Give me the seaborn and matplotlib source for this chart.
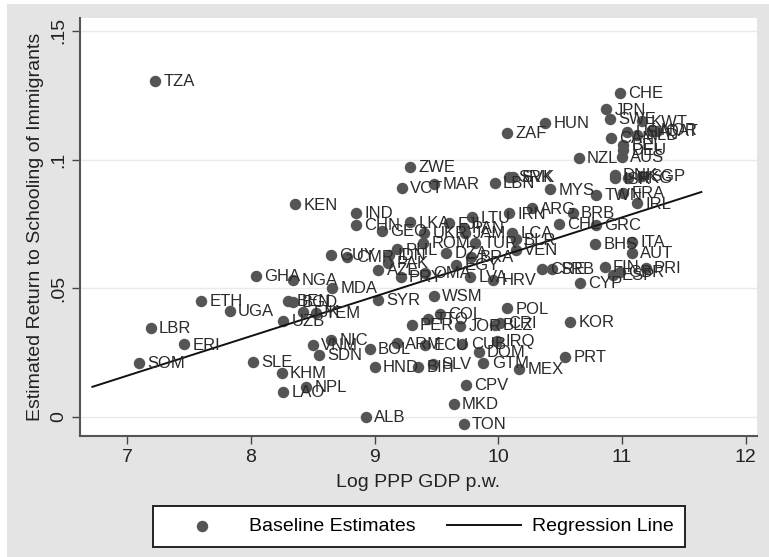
import matplotlib.pyplot as plt
from matplotlib.patches import Rectangle
import pandas as pd
import seaborn as sns

countries = ["TZA", "CHE", "JPN", "SWE", "KWT", "NOR", "QAT", "USA", "CAN", "BEL", "NLD", "AUS", "DEU", "NZL", "HUN", "ZAF",
             "LBN", "SRK", "SVK", "MYS", "TWN", "FRA", "DNK", "ISR", "SGP", "HKG", "IRL", "GRC", "CHL", "BRB", "ARG", "IRN",
             "KEN", "IND", "CHN", "LKA", "GEO", "FJI", "LTU", "PAN", "UKR", "ROM", "TUR", "JAM", "PHL", "IDN", "GUY", "CMR",
             "PAK", "AZE", "PRY", "OMA", "DZA", "BRA", "EGY", "LVA", "HRV", "NGA", "MDA", "SYR", "WSM", "POL", "LCA", "BLR",
             "VEN", "BHS", "ITA", "AUT", "FIN", "PRI", "ESP", "GBR", "CYP", "CRE", "SRB", "KOR", "CRI", "COL", "TTO", "PER",
             "JOR", "BLZ", "IRQ", "CUB", "ECU", "ARM", "BOL", "NIC", "VNM", "SDN", "HND", "BIH", "SLV", "DOM", "GTM", "MEX",
             "CPV", "MKD", "TON", "ALB", "NPL", "LAO", "KHM", "SLE", "SOM", "ERI", "LBR", "UGA", "ETH", "GHA", "BEN", "BGD",
             "UZB", "TJK", "YEM", "ZWE", "VCT", "MAR", "PRT"]
log_gdp = [7.23, 10.98, 10.87, 10.90, 11.16, 11.24, 11.28, 11.04, 10.91, 11.01, 11.12, 11.00, 11.01, 10.65, 10.38, 10.07,
           9.97, 10.09, 10.12, 10.42, 10.79, 11.01, 10.94, 10.94, 11.16, 11.05, 11.12, 10.79, 10.49, 10.60, 10.27, 10.09,
           8.36, 8.85, 8.85, 9.29, 9.06, 9.60, 9.79, 9.72, 9.40, 9.39, 9.81, 9.73, 9.18, 9.12, 8.65, 8.78,
           9.11, 9.03, 9.21, 9.41, 9.58, 9.78, 9.66, 9.77, 9.96, 8.34, 8.66, 9.03, 9.48, 10.07, 10.11, 10.14,
           10.14, 10.78, 11.08, 11.08, 10.86, 11.19, 10.93, 10.98, 10.66, 10.35, 10.43, 10.58, 10.01, 9.53, 9.43, 9.30,
           9.69, 9.97, 9.99, 9.71, 9.41, 9.18, 8.96, 8.65, 8.50, 8.55, 9.00, 9.35, 9.47, 9.84, 9.88, 10.17,
           9.74, 9.64, 9.72, 8.93, 8.45, 8.26, 8.25, 8.02, 7.10, 7.46, 7.19, 7.83, 7.60, 8.04, 8.30, 8.34,
           8.26, 8.42, 8.53, 9.29, 9.22, 9.48, 10.54]
returns = [0.1305, 0.126, 0.1195, 0.1157, 0.1148, 0.1115, 0.111, 0.1108, 0.1083, 0.1057, 0.1095, 0.1009, 0.1037, 0.1005, 0.1143, 0.1105,
           0.091, 0.0934, 0.0932, 0.0884, 0.0862, 0.0871, 0.094, 0.0927, 0.0936, 0.0929, 0.083, 0.0746, 0.0749, 0.0794, 0.081, 0.0791,
           0.0826, 0.0794, 0.0746, 0.0756, 0.0724, 0.0752, 0.0775, 0.0733, 0.0714, 0.0675, 0.0675, 0.0714, 0.0651, 0.0629, 0.0629, 0.0622,
           0.0598, 0.0571, 0.0543, 0.0559, 0.0636, 0.0623, 0.059, 0.0543, 0.0532, 0.0532, 0.05, 0.0455, 0.0471, 0.0422, 0.0714, 0.069,
           0.0649, 0.0671, 0.0679, 0.0636, 0.0584, 0.0578, 0.0552, 0.0565, 0.0522, 0.0575, 0.0575, 0.037, 0.0364, 0.0399, 0.038, 0.0357,
           0.0354, 0.0357, 0.0295, 0.0284, 0.028, 0.0286, 0.0264, 0.0299, 0.028, 0.0241, 0.0193, 0.0193, 0.0206, 0.0254, 0.0209, 0.0186,
           0.0124, 0.005, -0.0027, -0.0001, 0.0118, 0.0098, 0.0172, 0.0215, 0.0211, 0.0282, 0.0347, 0.0412, 0.0452, 0.0549, 0.0451, 0.0448,
           0.0374, 0.0409, 0.0403, 0.0971, 0.089, 0.0905, 0.0233]
line_x = [6.72, 11.64]
line_y = [0.0117, 0.0874]
x_ticks = [7, 8, 9, 10, 11, 12]
y_ticks = [0, 0.05, 0.1, 0.15]
y_ticklabels = ["0", ".05", ".1", ".15"]

plt.rcParams["font.family"] = ["Liberation Sans", "DejaVu Sans"]

df = pd.DataFrame({"gdp": log_gdp, "ret": returns, "name": countries})
df_line = pd.DataFrame({"gdp": line_x, "ret": line_y})

# grey page with the thin white strip the scan has on the left and top
fig = plt.figure(figsize=(7.69, 5.57), dpi=100, facecolor="white")
fig.add_artist(Rectangle((7 / 769, 0), 762 / 769, 553 / 557, transform=fig.transFigure,
                         facecolor="#e4e4e4", edgecolor="none", zorder=-1))
ax = fig.add_axes([80 / 769, 1 - 436 / 557, (757 - 80) / 769, (436 - 17.5) / 557])
ax.set_facecolor("white")

sns.scatterplot(data=df, x="gdp", y="ret", color="#555555", s=68, linewidth=0, ax=ax, label="Baseline Estimates", legend=False)
sns.lineplot(data=df_line, x="gdp", y="ret", color="#111111", linewidth=1.4, ax=ax, label="Regression Line", legend=False)

for name, gx, gy in zip(countries, log_gdp, returns):
    ax.annotate(name, (gx, gy), xytext=(6, -0.5), textcoords="offset points", va="center", ha="left",
                fontsize=12, color="#2a2a2a")

ax.set_xlim(6.62, 12.09)
ax.set_ylim(-0.0074, 0.1552)
ax.set_xticks(x_ticks)
ax.set_yticks(y_ticks)
ax.set_yticklabels(y_ticklabels, rotation=90, va="center")
ax.grid(which="major", axis="y", color="#eaeaea", linewidth=1)
ax.set_axisbelow(True)
ax.tick_params(labelsize=14, colors="#222222", length=5.5, width=1, pad=3.5)
ax.tick_params(color="#444444")
ax.set_xlabel("Log PPP GDP p.w.", fontsize=14, color="#222222", labelpad=6)
ax.set_ylabel("Estimated Return to Schooling of Immigrants", fontsize=14, color="#222222", labelpad=5)
for side in ["top", "right"]:
    ax.spines[side].set_visible(False)
for side in ["left", "bottom"]:
    ax.spines[side].set_color("#555555")
    ax.spines[side].set_linewidth(1.5)

handles, labels = ax.get_legend_handles_labels()
leg = fig.legend(handles, labels, ncol=2, loc="center",
                 bbox_to_anchor=(419 / 769, 1 - 526.5 / 557),
                 fontsize=14, frameon=True, fancybox=False, edgecolor="#222222", facecolor="white",
                 framealpha=1, handlelength=3.8, handletextpad=0.55, columnspacing=1.6,
                 borderaxespad=0, borderpad=0.6)
leg.get_frame().set_linewidth(1.4)

plt.savefig("out.png", dpi=100, facecolor=fig.get_facecolor())
